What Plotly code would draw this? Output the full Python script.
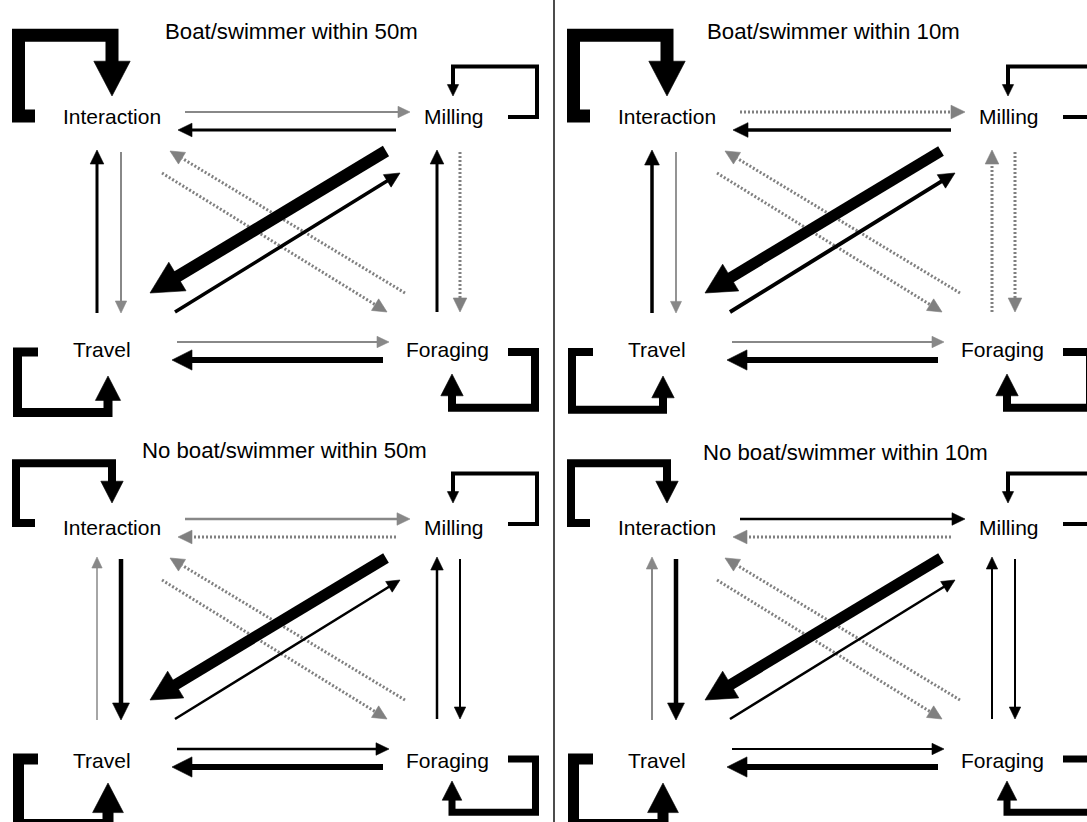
import math
import plotly.graph_objects as go

# ---------------------------------------------------------------- data
states = ["Interaction", "Milling", "Travel", "Foraging"]
state_keys = ["I", "M", "T", "F"]
panel_titles = ["Boat/swimmer within 50m", "Boat/swimmer within 10m",
                "No boat/swimmer within 50m", "No boat/swimmer within 10m"]

# transitions: first the self-transitions, then the between-state ones
transitions = ["I>I", "M>M", "T>T", "F>F",
               "I>M", "M>I", "I>T", "T>I", "I>F", "F>I",
               "M>T", "T>M", "M>F", "F>M", "T>F", "F>T"]

# relative strength of each transition (drawn weight)
weight_boat50 = [13, 4, 9, 8, 2, 3, 2, 3, 2.5, 2.5, 12, 3.5, 2.5, 3, 2, 6]
weight_boat10 = [13, 4, 8, 8, 2.5, 3.5, 1.8, 3.5, 2.5, 2.5, 11, 4, 2.5, 2.5, 2, 6]
weight_none50 = [8, 4, 11, 7, 2.5, 2.5, 4.5, 1.5, 2.5, 2.5, 11, 2.5, 2, 2.5, 2.5, 6]
weight_none10 = [8, 4, 11, 7, 2.5, 2.5, 4.5, 2, 2.5, 2.5, 11, 2.5, 2, 2, 2, 6]

# class of each transition: sig = black solid, ns = grey solid, low = grey dotted
kind_boat50 = ["sig", "sig", "sig", "sig", "ns", "sig", "ns", "sig", "low", "low",
               "sig", "sig", "low", "sig", "ns", "sig"]
kind_boat10 = ["sig", "sig", "sig", "sig", "low", "sig", "ns", "sig", "low", "low",
               "sig", "sig", "low", "low", "ns", "sig"]
kind_none50 = ["sig", "sig", "sig", "sig", "ns", "low", "sig", "ns", "low", "low",
               "sig", "sig", "sig", "sig", "sig", "sig"]
kind_none10 = ["sig", "sig", "sig", "sig", "sig", "low", "sig", "ns", "low", "low",
               "sig", "sig", "sig", "sig", "sig", "sig"]

panel_weights = [weight_boat50, weight_boat10, weight_none50, weight_none10]
panel_kinds = [kind_boat50, kind_boat10, kind_none50, kind_none10]

# ---------------------------------------------------------------- styles / layout
W, H = 1087, 822
GREY = "#888888"
DOT_GREY = "#808080"
STYLE = {"sig": ("#000000", "solid"), "ns": (GREY, "solid"), "low": (DOT_GREY, "2px,2px")}
FONT = "Liberation Sans, Arial, sans-serif"

# panel offsets (text / marks) in pixel units of the axes
PANEL_OFF = [(0, 0), (555, 0), (0, 411), (555, 411)]
MARK_DY = [0, 0, -4, -4]
TITLE_XY = [(291, 31), (833 - 555, 31), (284, 39), (845 - 555, 41)]

NODE_XY = {"I": (112, 116.5), "M": (454, 116.5), "T": (102, 349.5), "F": (447, 349.5)}

EDGE_GEOM = {
    "I>M": ((185, 112), (410, 112)),
    "M>I": ((396, 130), (178, 130)),
    "T>F": ((177, 342), (389, 342)),
    "F>T": ((383, 360), (172, 360)),
    "T>I": ((97, 313), (97, 150)),
    "I>T": ((121, 152), (121, 313)),
    "F>M": ((437, 312), (437, 150)),
    "M>F": ((460, 152), (460, 312)),
    "M>T": ((386, 151), (150, 293)),
    "T>M": ((175, 312), (400, 173)),
    "F>I": ((405, 293), (170, 151)),
    "I>F": ((162, 173), (387, 312)),
}
# self loops: tip of the arrow, inner end of the stub, outer edge, stub level,
# vdir: -1 loop above the label, +1 below; hdir: -1 loop on the left, +1 on the right
LOOP_GEOM = {
    "I": dict(tip=(112, 96), stub_x=35, outer=12, stub_y=116, vdir=-1, hdir=-1, stem=None),
    "M": dict(tip=(453, 96), stub_x=508, outer=539, stub_y=117, vdir=-1, hdir=1, stem=None),
    "T": dict(tip=(108, 376), stub_x=38, outer=13, stub_y=352, vdir=1, hdir=-1, stem=12),
    "F": dict(tip=(452, 374), stub_x=508, outer=539, stub_y=352, vdir=1, hdir=1, stem=12),
}

fig = go.Figure()


def add_line(xs, ys, color, width, dash):
    fig.add_trace(go.Scatter(x=xs, y=ys, mode="lines",
                             line=dict(color=color, width=width, dash=dash),
                             hoverinfo="skip", showlegend=False))


def add_head(tip, base, half, color):
    tx, ty = tip
    bx, by = base
    dx, dy = tx - bx, ty - by
    n = math.hypot(dx, dy)
    px, py = -dy / n, dx / n
    xs = [tx, bx + px * half, bx - px * half, tx]
    ys = [ty, by + py * half, by - py * half, ty]
    fig.add_trace(go.Scatter(x=xs, y=ys, mode="lines", fill="toself",
                             fillcolor=color, line=dict(color=color, width=0.6),
                             hoverinfo="skip", showlegend=False))


def arrow(p0, p1, w, kind):
    color, dash = STYLE[kind]
    if dash != "solid":
        w = w + 0.5
    L = 8 + 2.0 * w
    hw = (7 + 2.2 * w) / 2
    dx, dy = p1[0] - p0[0], p1[1] - p0[1]
    n = math.hypot(dx, dy)
    ux, uy = dx / n, dy / n
    base = (p1[0] - ux * L, p1[1] - uy * L)
    ext = 0.3 * L if dash == "solid" else 0
    end = (base[0] + ux * ext, base[1] + uy * ext)
    add_line([p0[0], end[0]], [p0[1], end[1]], color, w, dash)
    add_head(p1, base, hw, color)


def loop(g, ox, oy, w, kind):
    color, dash = STYLE[kind]
    L = 2.6 * w + 1
    hw = 1.4 * w
    tx, ty = g["tip"][0] + ox, g["tip"][1] + oy
    dir_ = -g["vdir"]  # arrow points toward the label
    base_y = ty - dir_ * L
    stem = g["stem"] if g["stem"] is not None else max(2 * w, 18)
    far_y = base_y + g["vdir"] * stem
    vx = g["outer"] + ox - g["hdir"] * w / 2
    sx, sy = g["stub_x"] + ox, g["stub_y"] + oy
    end_y = base_y + dir_ * 0.3 * L
    add_line([sx, vx, vx, tx, tx], [sy, sy, far_y, far_y, end_y], color, w, dash)
    add_head((tx, ty), (tx, base_y), hw, color)


annotations = []
for p in range(4):
    ox, oy = PANEL_OFF[p]
    my = oy + MARK_DY[p]
    weights = panel_weights[p]
    kinds = panel_kinds[p]
    for t, w, k in zip(transitions, weights, kinds):
        a, b = t.split(">")
        if a == b:
            loop(LOOP_GEOM[a], ox, my, w, k)
        else:
            (x0, y0), (x1, y1) = EDGE_GEOM[t]
            arrow((x0 + ox, y0 + my), (x1 + ox, y1 + my), w, k)
    for key, name in zip(state_keys, states):
        nx, ny = NODE_XY[key]
        annotations.append(dict(x=nx + ox, y=ny + oy, text=name, showarrow=False,
                                xref="x", yref="y", xanchor="center", yanchor="middle",
                                font=dict(family=FONT, size=21, color="black")))
    tx, ty = TITLE_XY[p]
    annotations.append(dict(x=tx + ox, y=ty + oy, text=panel_titles[p], showarrow=False,
                            xref="x", yref="y", xanchor="center", yanchor="middle",
                            font=dict(family=FONT, size=22.2, color="black")))

# separator between the two distance thresholds
fig.add_trace(go.Scatter(x=[554, 554], y=[0, H], mode="lines",
                         line=dict(color="#111111", width=1.5),
                         hoverinfo="skip", showlegend=False))

fig.update_layout(
    width=W, height=H, autosize=False,
    margin=dict(l=0, r=0, t=0, b=0),
    paper_bgcolor="white", plot_bgcolor="white",
    xaxis=dict(range=[0, W], visible=False, fixedrange=True),
    yaxis=dict(range=[H, 0], visible=False, fixedrange=True),
    annotations=annotations,
    showlegend=False,
)

fig.write_html("out.html", config={"displayModeBar": False},
               post_script="document.body.style.margin='0';")
